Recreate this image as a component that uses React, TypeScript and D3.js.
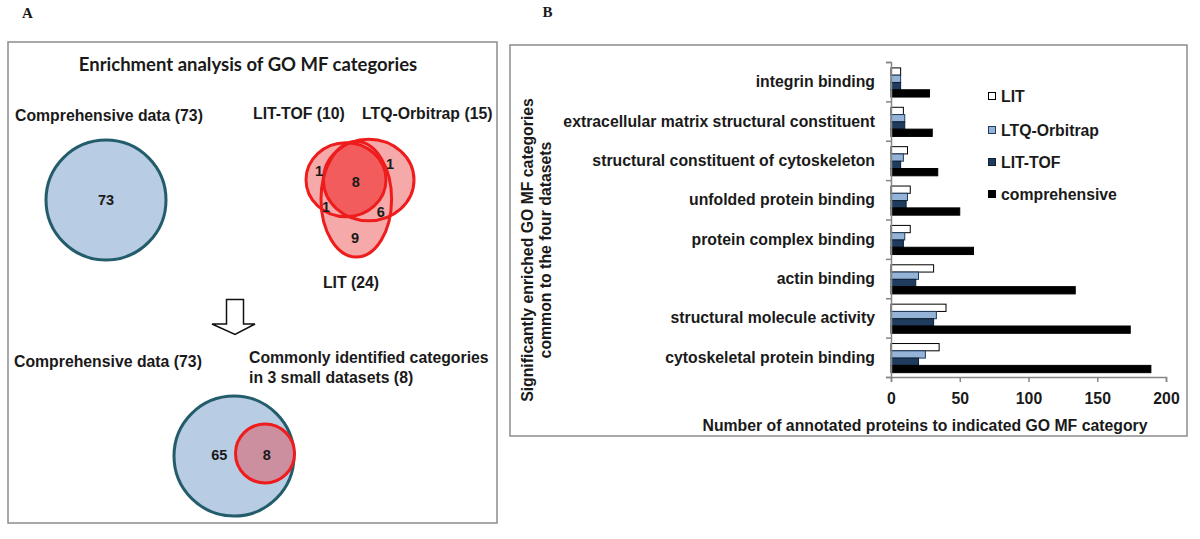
import React, { useRef, useEffect } from 'react';
import * as d3 from 'd3';

// GO MF categories, top to bottom as drawn
const categories = [
  'integrin binding',
  'extracellular matrix structural constituent',
  'structural constituent of cytoskeleton',
  'unfolded protein binding',
  'protein complex binding',
  'actin binding',
  'structural molecule activity',
  'cytoskeletal protein binding',
];
const seriesNames = ['LIT', 'LTQ-Orbitrap', 'LIT-TOF', 'comprehensive'];
const litValues = [7, 9, 12, 14, 14, 31, 40, 35];
const ltqValues = [7, 10, 9, 12, 10, 20, 33, 25];
const tofValues = [7, 10, 7, 11, 9, 18, 31, 20];
const compValues = [28, 30, 34, 50, 60, 134, 174, 189];
const xTicks = [0, 50, 100, 150, 200];

// venn counts
const comprehensiveTotal = 73;
const threeSetCounts = { tofOnly: 1, ltqOnly: 1, all: 8, tofLit: 1, ltqLit: 6, litOnly: 9 };
const setSizes = { tof: 10, ltq: 15, lit: 24 };
const commonCount = 8;

const seriesFill = ['#ffffff', '#95b3d7', '#1f3b5e', '#000000'];
const seriesStroke = ['#000000', '#1f3b5e', '#0f1f33', '#000000'];

const FONT = '"Liberation Sans", Arial, sans-serif';
const TXT = '#1a1a1a';
const FS = 15.8;

const App = () => {
  const xAxisRef = useRef<SVGGElement>(null);
  const yAxisRef = useRef<SVGGElement>(null);

  const x = d3.scaleLinear().domain([0, 200]).range([891, 1166]);
  const yBand = d3.scaleBand<string>().domain(categories).range([62, 377]).padding(0);
  const bw = yBand.bandwidth();
  const inner = d3.scaleBand<string>().domain(seriesNames).range([bw * 0.15, bw * 0.89]).padding(0);
  const seriesValues = [litValues, ltqValues, tofValues, compValues];
  const tickIdx = d3.scaleLinear().domain([0, categories.length]).range([62, 377]);

  useEffect(() => {
    const gx = d3.select(xAxisRef.current!);
    gx.selectAll('*').remove();
    gx.call(d3.axisBottom(x).tickValues(xTicks).tickSize(5).tickPadding(11));
    gx.selectAll('path, line').attr('stroke', '#868686').attr('stroke-width', 1.5);
    gx.selectAll('text')
      .attr('fill', TXT)
      .style('font-family', FONT)
      .style('font-weight', 'bold')
      .style('font-size', `${FS}px`);

    const gy = d3.select(yAxisRef.current!);
    gy.selectAll('*').remove();
    gy.call(d3.axisLeft(tickIdx).tickValues(d3.range(categories.length + 1)).tickSize(5).tickFormat(() => ''));
    gy.selectAll('path, line').attr('stroke', '#868686').attr('stroke-width', 1.5);
  }, []);

  const tofE = { cx: 346, cy: 179.7, rx: 40, ry: 37 };
  const ltqE = { cx: 368.7, cy: 180, rx: 45.3, ry: 40.7 };
  const litE = { cx: 356.3, cy: 199.3, rx: 35.3, ry: 57.7 };

  const bold = { fontFamily: FONT, fontWeight: 'bold' as const, fill: TXT };

  return (
    <svg width={1200} height={539} style={{ position: 'absolute', left: 0, top: 0, background: '#fff' }}>
      <defs>
        <clipPath id="clipTof">
          <ellipse cx={tofE.cx} cy={tofE.cy} rx={tofE.rx} ry={tofE.ry} />
        </clipPath>
      </defs>

      {/* panel labels */}
      <text x={27.5} y={18} textAnchor="middle" fontFamily="'Liberation Serif', serif" fontWeight="bold" fontSize={15} fill={TXT}>A</text>
      <text x={547.5} y={17} textAnchor="middle" fontFamily="'Liberation Serif', serif" fontWeight="bold" fontSize={15} fill={TXT}>B</text>

      {/* ---------- Panel A ---------- */}
      <rect x={8} y={42} width={489} height={481} fill="none" stroke="#8c8c8c" strokeWidth={1.5} />
      <text x={248} y={71} textAnchor="middle" fontFamily="Lato, sans-serif" fontWeight="bold" fontSize={18.5} fill={TXT}>
        Enrichment analysis of GO MF categories
      </text>

      <text x={15} y={121} fontSize={FS} {...bold}>Comprehensive data ({comprehensiveTotal})</text>
      <circle cx={106} cy={200} r={60} fill="#b8cce4" stroke="#235c6b" strokeWidth={3} />
      <text x={106} y={205} textAnchor="middle" fontSize={14.5} {...bold}>{comprehensiveTotal}</text>

      <text x={253} y={119} fontSize={FS} {...bold}>LIT-TOF ({setSizes.tof})</text>
      <text x={362} y={119} fontSize={FS} {...bold}>LTQ-Orbitrap ({setSizes.ltq})</text>
      <text x={351} y={288} textAnchor="middle" fontSize={FS} {...bold}>LIT ({setSizes.lit})</text>

      {/* three-set venn */}
      <ellipse {...tofE} fill="#f6a9a9" />
      <ellipse {...ltqE} fill="#f6a9a9" />
      <ellipse {...litE} fill="#f6a9a9" />
      <ellipse {...ltqE} fill="#f25c5c" clipPath="url(#clipTof)" />
      <ellipse {...tofE} fill="none" stroke="#ee1c1c" strokeWidth={3} />
      <ellipse {...ltqE} fill="none" stroke="#ee1c1c" strokeWidth={3} />
      <ellipse {...litE} fill="none" stroke="#ee1c1c" strokeWidth={3} />
      <g fontSize={14.5} textAnchor="middle" {...bold}>
        <text x={319} y={175.5}>{threeSetCounts.tofOnly}</text>
        <text x={390} y={168.5}>{threeSetCounts.ltqOnly}</text>
        <text x={355.7} y={187}>{threeSetCounts.all}</text>
        <text x={326} y={211.5}>{threeSetCounts.tofLit}</text>
        <text x={380.7} y={217}>{threeSetCounts.ltqLit}</text>
        <text x={355} y={242.5}>{threeSetCounts.litOnly}</text>
      </g>

      {/* hollow arrow */}
      <path d="M226.5,299.5 L243.5,299.5 L243.5,324 L255,324 L235,334.5 L212,324 L226.5,324 Z" fill="#fff" stroke="#111" strokeWidth={1.5} />

      <text x={14} y={367} fontSize={FS} {...bold}>Comprehensive data ({comprehensiveTotal})</text>
      <text x={249} y={362.5} fontSize={FS} {...bold}>Commonly identified categories</text>
      <text x={249} y={382.5} fontSize={FS} {...bold}>in 3 small datasets ({commonCount})</text>

      <circle cx={234} cy={456} r={60} fill="#b8cce4" stroke="#235c6b" strokeWidth={3} />
      <circle cx={265} cy={453.5} r={29.5} fill="#cc8f9f" stroke="#ee1c1c" strokeWidth={3} />
      <text x={219.3} y={459.5} textAnchor="middle" fontSize={14.5} {...bold}>{comprehensiveTotal - commonCount}</text>
      <text x={266.7} y={459.5} textAnchor="middle" fontSize={14.5} {...bold}>{commonCount}</text>

      {/* ---------- Panel B ---------- */}
      <rect x={510} y={45} width={677} height={391} fill="none" stroke="#8c8c8c" strokeWidth={1.5} />

      {categories.map((c, i) => (
        <g key={c} transform={`translate(0,${yBand(c)})`}>
          <text x={875} y={bw / 2 + 5.5} textAnchor="end" fontSize={FS} {...bold}>{c}</text>
          {seriesNames.map((s, j) => (
            <rect
              key={s}
              x={x(0)}
              y={inner(s)!}
              width={x(seriesValues[j][i]) - x(0)}
              height={inner.bandwidth()}
              fill={seriesFill[j]}
              stroke={seriesStroke[j]}
              strokeWidth={1}
            />
          ))}
        </g>
      ))}

      <g ref={yAxisRef} transform={`translate(${x(0)},0)`} />
      <g ref={xAxisRef} transform={`translate(0,377)`} />

      <text x={925} y={431} textAnchor="middle" fontSize={FS} {...bold}>
        Number of annotated proteins to indicated GO MF category
      </text>
      <g transform="translate(527,250) rotate(-90)">
        <text x={0} y={5.5} textAnchor="middle" fontSize={FS} {...bold}>Significantly enriched GO MF categories</text>
        <text x={0} y={23.5} textAnchor="middle" fontSize={FS} {...bold}>common to the four datasets</text>
      </g>

      {/* legend */}
      {seriesNames.map((s, j) => {
        const ly = [96, 130, 162, 194][j];
        return (
          <g key={s}>
            <rect x={988.5} y={ly - 3.5} width={7} height={7} fill={seriesFill[j]} stroke={seriesStroke[j]} strokeWidth={1} />
            <text x={1001} y={ly + 5.5} fontSize={FS} {...bold}>{s}</text>
          </g>
        );
      })}
    </svg>
  );
};

export default App;
